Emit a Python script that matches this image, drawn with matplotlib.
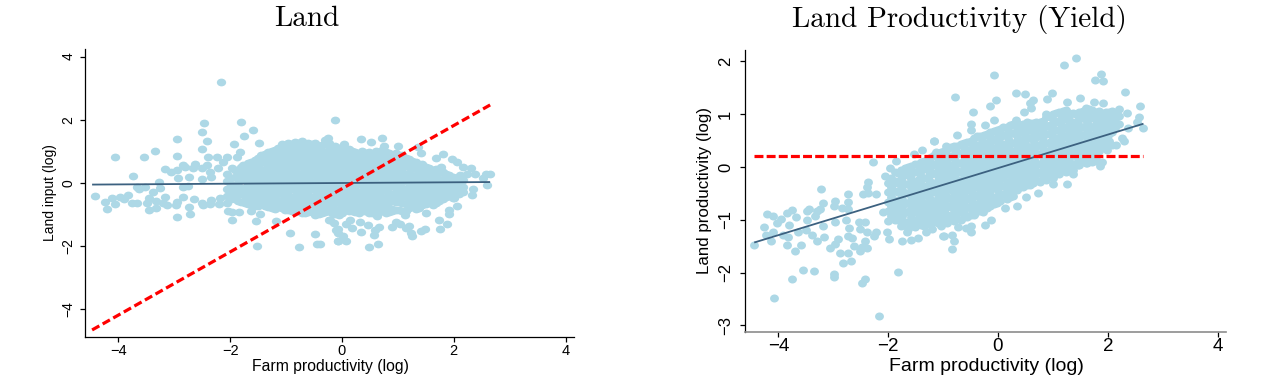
import matplotlib
matplotlib.use("Agg")
import matplotlib.pyplot as plt
from matplotlib.markers import MarkerStyle
from matplotlib.transforms import Affine2D

title_left = "Land"
title_right = "Land Productivity (Yield)"
xlabel = "Farm productivity (log)"
ylabel_left = "Land input (log)"
ylabel_right = "Land productivity (log)"
xticks = [-4, -2, 0, 2, 4]
yticks_left = [-4, -2, 0, 2, 4]
yticks_right = [-3, -2, -1, 0, 1, 2]

# Left panel: separate points around the cloud
left_x = [-2.17,-2.46,-1.81,-2.50,-1.59,-2.96,-2.42,-1.75,-1.94,-1.49,-2.50,-3.35,-1.83,-4.06,-3.54,-2.96,-2.39,-2.24,-2.05,-1.87,
 -2.12,-3.16,-3.74,-3.05,-2.95,-2.85,-2.81,-2.63,-2.67,-2.42,-2.51,-2.36,-2.21,-1.96,-1.77,-2.93,-2.74,-2.51,-2.35,-3.28,-2.84,-2.75,-3.25,-3.67,-3.52,-3.63,
 -4.42,-4.24,-4.11,-4.20,-4.06,-3.97,-3.90,-3.82,-3.76,-3.66,-3.46,-3.46,-3.49,-3.38,-3.33,-3.33,-3.17,-3.20,-3.13,-2.96,-2.97,-2.85,-2.73,-2.72,-2.95,-2.64,-2.51,-2.49,-2.35,-2.36,-2.20,-2.18,-2.05,-2.04,-1.96,-1.84,-1.96,-1.62,-1.53,-1.46,-1.52,-1.18,-0.93,-0.77,-0.45,-0.48,-0.21,-0.07,-0.10,
 -0.13,-0.25,-0.30,0.34,0.51,0.72,0.04,-0.23,0.75,1.00,1.36,1.41,1.81,1.68,1.97,2.06,2.16,2.31,1.77,
 2.58,2.65,2.38,2.23,2.52,2.11,2.59,2.35,2.33,2.17,2.05,2.00,1.91,1.91,1.74,1.88,1.76,1.48,1.42,1.23,1.26,1.19,1.14,1.04,0.97,0.89,0.67,0.59,0.57,0.47,0.32,0.34,0.64,0.49,0.18,0.14,0.08,-0.08,-0.07,0.01,-0.07,0.07,-0.23,-0.14,1.51,1.13,0.89,0.63,-0.39]
left_y = [3.19,1.91,1.93,1.60,1.67,1.39,1.32,1.48,1.23,1.27,1.08,1.02,0.99,0.81,0.82,0.84,0.82,0.82,0.81,0.81,
 0.66,0.45,0.23,0.36,0.41,0.58,0.52,0.60,0.46,0.57,0.46,0.36,0.46,0.49,0.57,0.15,0.18,0.14,0.18,0.02,-0.12,-0.09,-0.15,-0.12,-0.12,-0.20,
 -0.42,-0.61,-0.49,-0.81,-0.65,-0.43,-0.52,-0.39,-0.63,-0.62,-0.47,-0.86,-0.62,-0.29,-0.56,-0.78,-0.45,-0.64,-0.69,-0.60,-0.71,-0.45,-0.75,-0.98,-1.07,-0.51,-0.62,-0.70,-0.54,-0.67,-0.67,-0.49,-0.62,-0.88,-0.92,-0.92,-1.16,-0.90,-1.19,-0.98,-2.00,-1.21,-1.57,-2.02,-1.93,-1.61,-1.17,-1.82,-1.48,
 1.99,1.41,1.36,1.39,1.31,1.41,1.22,1.27,1.18,1.17,1.15,0.94,0.92,0.78,0.76,0.66,0.51,0.46,0.50,
 0.30,0.27,0.27,0.30,0.15,0.25,-0.06,-0.19,-0.39,-0.27,-0.72,-0.46,-0.85,-0.98,-1.18,-1.30,-1.47,-1.44,-1.51,-1.59,-1.68,-1.36,-1.41,-1.31,-1.22,-1.38,-1.39,-1.49,-1.65,-1.32,-1.24,-1.54,-1.92,-2.03,-1.41,-1.17,-1.31,-1.44,-1.57,-1.68,-1.82,-1.85,-1.17,-1.26,-0.94,-1.00,-0.90,-1.05,-1.93]

# Left panel: the solid part of the cloud, read column by column
left_cloud_x = [-2.05,-1.92,-1.80,-1.68,-1.56,-1.44,-1.32,-1.20,-1.08,-0.96,-0.84,-0.72,-0.60,-0.48,-0.36,-0.24,-0.12,0.00,0.12,0.24,0.36,0.48,0.60,0.72,0.84,0.96,1.08,1.20,1.32,1.44,1.56,1.68,1.80,1.92,2.04,2.16]
left_cloud_y = [
 [0.28,0.05,-0.18,-0.42],
 [0.42,0.18,-0.05,-0.28,-0.52],
 [0.50,0.28,0.08,-0.15,-0.36,-0.60],
 [0.62,0.40,0.18,-0.04,-0.26,-0.48,-0.66],
 [0.72,0.50,0.28,0.06,-0.16,-0.38,-0.58,-0.72],
 [0.90,0.66,0.42,0.20,-0.02,-0.24,-0.46,-0.68],
 [0.98,0.76,0.54,0.32,0.10,-0.12,-0.34,-0.56,-0.76],
 [1.05,0.85,0.65,0.42,0.20,-0.02,-0.24,-0.46,-0.66,-0.82],
 [1.22,0.98,0.76,0.54,0.32,0.10,-0.12,-0.34,-0.56,-0.78],
 [1.25,1.04,0.84,0.64,0.42,0.20,-0.02,-0.24,-0.46,-0.66,-0.86],
 [1.30,1.10,0.88,0.66,0.44,0.22,0.00,-0.22,-0.44,-0.64,-0.84],
 [1.33,1.14,0.94,0.74,0.52,0.30,0.08,-0.14,-0.36,-0.58,-0.78,-0.96],
 [1.26,1.06,0.84,0.62,0.40,0.18,-0.04,-0.26,-0.48,-0.70,-0.92],
 [1.28,1.10,0.90,0.70,0.48,0.26,0.04,-0.18,-0.40,-0.62,-0.84,-1.02],
 [1.20,1.00,0.78,0.56,0.34,0.12,-0.10,-0.32,-0.54,-0.76,-0.96],
 [1.18,1.02,0.82,0.62,0.42,0.20,-0.02,-0.24,-0.46,-0.68,-0.88],
 [1.16,0.94,0.72,0.50,0.28,0.06,-0.16,-0.38,-0.60,-0.82,-0.98],
 [1.14,0.98,0.78,0.58,0.36,0.14,-0.08,-0.30,-0.52,-0.74,-0.94],
 [1.08,0.88,0.66,0.44,0.22,0.00,-0.22,-0.44,-0.66,-0.88],
 [0.98,0.78,0.56,0.34,0.12,-0.10,-0.32,-0.54,-0.76,-0.92],
 [1.02,0.84,0.64,0.42,0.20,-0.02,-0.24,-0.46,-0.68,-0.88],
 [0.98,0.76,0.54,0.32,0.10,-0.12,-0.34,-0.56,-0.78,-0.94],
 [1.00,0.84,0.64,0.42,0.20,-0.02,-0.24,-0.46,-0.68,-0.88],
 [1.04,0.86,0.66,0.44,0.22,0.00,-0.22,-0.44,-0.66,-0.90],
 [0.96,0.76,0.54,0.32,0.10,-0.12,-0.34,-0.56,-0.78,-0.92],
 [0.94,0.72,0.50,0.28,0.06,-0.16,-0.38,-0.60,-0.86],
 [0.88,0.68,0.46,0.24,0.02,-0.20,-0.42,-0.64,-0.88],
 [0.76,0.54,0.32,0.10,-0.12,-0.34,-0.56,-0.78],
 [0.68,0.48,0.26,0.04,-0.18,-0.40,-0.62,-0.82],
 [0.60,0.38,0.16,-0.06,-0.28,-0.50,-0.70],
 [0.48,0.28,0.06,-0.16,-0.38,-0.60],
 [0.44,0.24,0.02,-0.20,-0.42,-0.64],
 [0.36,0.14,-0.08,-0.30,-0.52],
 [0.24,0.04,-0.18,-0.40],
 [0.16,-0.06,-0.28],
 [0.08,-0.12],
]
left_fill_x = [-1.98,-1.86,-1.74,-1.62,-1.50,-1.38,-1.26,-1.14,-1.02,-0.90,-0.78,-0.66,-0.54,-0.42,-0.30,-0.18,-0.06,0.06,0.18,0.30,0.42,0.54,0.66,0.78,0.90,1.02,1.14,1.26,1.38,1.50,1.62,1.74,1.86,1.98,2.10]
left_fill_y = [
 [0.16,-0.06,-0.30,-0.52],
 [0.38,0.14,-0.10,-0.34,-0.58],
 [0.55,0.32,0.08,-0.16,-0.40,-0.62],
 [0.66,0.44,0.20,-0.04,-0.28,-0.52,-0.70],
 [0.80,0.58,0.34,0.10,-0.14,-0.38,-0.62,-0.74],
 [0.92,0.68,0.44,0.20,-0.04,-0.28,-0.52,-0.72],
 [1.00,0.80,0.56,0.32,0.08,-0.16,-0.40,-0.64,-0.80],
 [1.10,0.88,0.64,0.40,0.16,-0.08,-0.32,-0.56,-0.76],
 [1.18,0.94,0.70,0.46,0.22,-0.02,-0.26,-0.50,-0.74,-0.86],
 [1.22,1.00,0.76,0.52,0.28,0.04,-0.20,-0.44,-0.68,-0.88],
 [1.26,1.02,0.78,0.54,0.30,0.06,-0.18,-0.42,-0.66,-0.90],
 [1.20,0.96,0.72,0.48,0.24,0.00,-0.24,-0.48,-0.72,-0.94],
 [1.24,1.00,0.76,0.52,0.28,0.04,-0.20,-0.44,-0.68,-0.92],
 [1.16,0.92,0.68,0.44,0.20,-0.04,-0.28,-0.52,-0.76,-0.98],
 [1.22,0.98,0.74,0.50,0.26,0.02,-0.22,-0.46,-0.70,-0.92],
 [1.12,0.88,0.64,0.40,0.16,-0.08,-0.32,-0.56,-0.80,-0.96],
 [1.08,0.84,0.60,0.36,0.12,-0.12,-0.36,-0.60,-0.84,-1.00],
 [1.04,0.80,0.56,0.32,0.08,-0.16,-0.40,-0.64,-0.86],
 [1.02,0.78,0.54,0.30,0.06,-0.18,-0.42,-0.66,-0.90],
 [0.92,0.68,0.44,0.20,-0.04,-0.28,-0.52,-0.76,-0.94],
 [0.96,0.72,0.48,0.24,0.00,-0.24,-0.48,-0.72,-0.90],
 [0.90,0.66,0.42,0.18,-0.06,-0.30,-0.54,-0.78,-0.96],
 [0.94,0.70,0.46,0.22,-0.02,-0.26,-0.50,-0.74,-0.92],
 [0.98,0.74,0.50,0.26,0.02,-0.22,-0.46,-0.70,-0.94],
 [0.86,0.62,0.38,0.14,-0.10,-0.34,-0.58,-0.82],
 [0.84,0.60,0.36,0.12,-0.12,-0.36,-0.60,-0.84],
 [0.78,0.54,0.30,0.06,-0.18,-0.42,-0.66,-0.90],
 [0.70,0.46,0.22,-0.02,-0.26,-0.50,-0.74],
 [0.58,0.34,0.10,-0.14,-0.38,-0.62,-0.80],
 [0.52,0.28,0.04,-0.20,-0.44,-0.66],
 [0.42,0.18,-0.06,-0.30,-0.54,-0.70],
 [0.34,0.10,-0.14,-0.38,-0.58],
 [0.28,0.04,-0.20,-0.44],
 [0.20,-0.04,-0.28,-0.48],
 [0.10,-0.14,-0.34],
]

# Right panel: separate points around the cloud
right_x = [-4.44,-4.26,-4.21,-4.09,-4.23,-4.09,-4.13,-4.02,-3.96,-3.85,-3.75,-3.68,-3.80,-3.91,-3.83,-3.84,-3.58,-3.70,-3.65,-3.50,-3.48,-3.44,-3.47,-3.30,-3.25,-3.19,-3.22,-3.34,-3.39,-3.29,-3.17,-3.18,-2.97,-2.98,-2.96,-2.91,-2.96,-3.06,-2.87,-2.74,-2.83,-2.67,-2.74,-2.65,-2.71,-2.76,-2.73,-2.74,-2.85,-2.74,-2.63,-2.51,-2.48,-2.39,-2.42,-2.53,-2.51,-2.38,-2.42,-2.25,-2.22,-2.36,-2.39,-2.45,-2.36,-2.22,-2.28,-1.85,-2.10,
 -3.55,-3.36,-3.76,-4.08,-2.98,-2.99,-2.43,-2.48,-2.17,-1.83,-1.99,-1.75,-1.59,-1.46,-1.65,-2.02,-0.99,-1.31,-2.06,-1.97,-1.53,-1.38,-1.17,-0.95,-1.13,
 1.42,1.21,-0.07,1.88,1.76,1.91,2.32,0.33,0.49,0.98,-0.78,-0.04,-0.15,0.89,0.64,0.58,1.49,1.74,1.91,1.25,2.59,-0.46,2.35,2.56,-0.08,-0.49,-0.49,-0.24,-0.74,0.32,0.47,0.60,0.87,-1.17,2.65,2.53,2.37,2.25,2.30,2.15,2.07,1.98,1.86,1.89,1.36,1.25,1.01,0.72,0.51,0.34,0.13,-0.13,-0.24,-0.49,-0.49,-0.58,-0.80,-0.83,-0.84,-1.00,-1.21,-0.72,-0.27,-0.41,-0.02]
right_y = [-1.47,-1.14,-0.89,-0.92,-1.28,-1.23,-1.41,-1.06,-0.98,-0.87,-0.82,-0.95,-1.09,-1.29,-1.33,-1.48,-1.48,-1.60,-1.24,-1.19,-1.00,-0.80,-0.84,-0.83,-0.80,-0.68,-0.41,-0.93,-1.29,-1.40,-1.33,-1.11,-0.64,-0.74,-1.05,-1.36,-1.46,-1.54,-1.62,-1.62,-1.82,-1.78,-1.30,-1.35,-1.15,-1.00,-0.52,-0.66,-0.78,-0.80,-1.50,-1.60,-1.51,-1.53,-1.41,-1.05,-1.18,-1.23,-1.05,-1.31,-1.24,-0.29,-0.37,-0.51,-0.50,-0.51,0.09,0.11,-0.85,
 -1.95,-1.97,-2.12,-2.49,-2.03,-2.09,-2.13,-2.19,-2.83,-1.98,-1.37,-1.40,-1.38,-1.34,-1.24,-1.23,-1.30,-1.24,-0.17,-0.01,0.25,0.32,0.49,0.40,0.29,
 2.06,1.94,1.75,1.77,1.64,1.63,1.43,1.41,1.38,1.41,1.32,1.26,1.15,1.28,1.27,1.22,1.31,1.24,1.22,1.23,1.15,1.04,1.03,0.95,0.89,0.81,0.71,0.79,0.61,0.89,1.05,1.12,1.01,0.49,0.74,0.86,0.73,0.54,0.50,0.42,0.41,0.32,0.02,0.10,-0.14,-0.32,-0.32,-0.50,-0.57,-0.73,-0.78,-1.01,-1.10,-1.24,-1.12,-1.16,-1.41,-1.55,-1.29,-1.30,-1.18,-1.13,-0.85,-0.87,-0.69]

# Right panel: the solid part of the cloud, read column by column
right_cloud_x = [-2.00,-1.88,-1.76,-1.64,-1.52,-1.40,-1.28,-1.16,-1.04,-0.92,-0.80,-0.68,-0.56,-0.44,-0.32,-0.20,-0.08,0.04,0.16,0.28,0.40,0.52,0.64,0.76,0.88,1.00,1.12,1.24,1.36,1.48,1.60,1.72,1.84,1.96,2.08,2.20]
right_cloud_y = [
 [-0.30,-0.48,-0.66,-0.84,-1.02],
 [-0.10,-0.27,-0.45,-0.63,-0.81,-1.00],
 [-0.05,-0.22,-0.40,-0.58,-0.76,-0.94,-1.12],
 [0.00,-0.15,-0.32,-0.50,-0.68,-0.86,-1.04,-1.18],
 [0.06,-0.10,-0.28,-0.46,-0.64,-0.82,-1.00,-1.14],
 [0.10,-0.05,-0.22,-0.40,-0.58,-0.76,-0.94,-1.10],
 [0.16,0.00,-0.18,-0.36,-0.54,-0.72,-0.90,-1.08],
 [0.22,0.06,-0.12,-0.30,-0.48,-0.66,-0.84,-1.02],
 [0.28,0.10,-0.08,-0.26,-0.44,-0.62,-0.80,-0.98,-1.12],
 [0.34,0.16,-0.02,-0.20,-0.38,-0.56,-0.74,-0.92,-1.06],
 [0.40,0.22,0.04,-0.14,-0.32,-0.50,-0.68,-0.86,-1.02],
 [0.44,0.26,0.08,-0.10,-0.28,-0.46,-0.64,-0.82,-1.00],
 [0.48,0.32,0.14,-0.04,-0.22,-0.40,-0.58,-0.76,-0.94],
 [0.54,0.36,0.18,0.00,-0.18,-0.36,-0.54,-0.72,-0.90],
 [0.58,0.42,0.24,0.06,-0.12,-0.30,-0.48,-0.66,-0.84],
 [0.62,0.46,0.28,0.10,-0.08,-0.26,-0.44,-0.62,-0.78],
 [0.68,0.52,0.34,0.16,-0.02,-0.20,-0.38,-0.56,-0.70],
 [0.72,0.56,0.38,0.20,0.02,-0.16,-0.34,-0.52,-0.64],
 [0.76,0.60,0.42,0.24,0.06,-0.12,-0.30,-0.46,-0.60],
 [0.82,0.64,0.46,0.28,0.10,-0.08,-0.26,-0.42,-0.54],
 [0.80,0.66,0.50,0.32,0.14,-0.04,-0.22,-0.38],
 [0.86,0.70,0.54,0.36,0.18,0.00,-0.18,-0.34],
 [0.84,0.72,0.56,0.40,0.22,0.04,-0.14,-0.30],
 [0.86,0.74,0.58,0.42,0.24,0.06,-0.12,-0.28],
 [0.94,0.78,0.62,0.46,0.28,0.10,-0.08,-0.24],
 [1.00,0.84,0.68,0.50,0.32,0.14,-0.04,-0.20],
 [1.04,0.88,0.70,0.52,0.34,0.16,-0.02,-0.14],
 [1.08,0.92,0.74,0.56,0.38,0.20,0.02,-0.10],
 [1.02,0.86,0.78,0.60,0.42,0.24,0.06,-0.06],
 [1.04,0.90,0.74,0.56,0.38,0.20,0.04],
 [1.12,0.96,0.78,0.60,0.42,0.24,0.08],
 [1.08,0.92,0.76,0.58,0.40,0.24,0.10],
 [1.06,0.92,0.76,0.60,0.44,0.30],
 [1.04,0.90,0.74,0.58,0.44],
 [1.06,0.92,0.78,0.66],
 [1.10,0.96,0.82],
]
right_fill_x = [-1.94,-1.82,-1.70,-1.58,-1.46,-1.34,-1.22,-1.10,-0.98,-0.86,-0.74,-0.62,-0.50,-0.38,-0.26,-0.14,-0.02,0.10,0.22,0.34,0.46,0.58,0.70,0.82,0.94,1.06,1.18,1.30,1.42,1.54,1.66,1.78,1.90,2.02,2.14]
right_fill_y = [
 [-0.20,-0.38,-0.56,-0.74,-0.92],
 [-0.12,-0.30,-0.48,-0.66,-0.84,-1.00],
 [-0.02,-0.16,-0.32,-0.50,-0.68,-0.86,-1.04],
 [0.02,-0.14,-0.30,-0.46,-0.62,-0.78,-0.94,-1.10],
 [0.06,-0.08,-0.24,-0.40,-0.56,-0.72,-0.88,-1.04],
 [0.12,-0.04,-0.20,-0.36,-0.52,-0.68,-0.84,-1.00,-1.12],
 [0.18,0.02,-0.14,-0.30,-0.46,-0.62,-0.78,-0.94,-1.08],
 [0.26,0.08,-0.10,-0.26,-0.42,-0.58,-0.74,-0.90,-1.06],
 [0.30,0.14,-0.02,-0.18,-0.34,-0.50,-0.66,-0.82,-0.98],
 [0.38,0.20,0.04,-0.12,-0.28,-0.44,-0.60,-0.76,-0.92],
 [0.40,0.24,0.08,-0.08,-0.24,-0.40,-0.56,-0.72,-0.88,-0.98],
 [0.46,0.30,0.14,-0.02,-0.18,-0.34,-0.50,-0.66,-0.82,-0.94],
 [0.50,0.34,0.18,0.02,-0.14,-0.30,-0.46,-0.62,-0.78,-0.90],
 [0.58,0.42,0.26,0.10,-0.06,-0.22,-0.38,-0.54,-0.70,-0.82],
 [0.60,0.44,0.28,0.12,-0.04,-0.20,-0.36,-0.52,-0.68,-0.78],
 [0.66,0.50,0.34,0.18,0.02,-0.14,-0.30,-0.46,-0.62,-0.74],
 [0.70,0.54,0.38,0.22,0.06,-0.10,-0.26,-0.42,-0.58,-0.66],
 [0.76,0.60,0.44,0.28,0.12,-0.04,-0.20,-0.36,-0.52],
 [0.80,0.64,0.48,0.32,0.16,0.00,-0.16,-0.32,-0.48,-0.56],
 [0.82,0.66,0.50,0.34,0.18,0.02,-0.14,-0.30,-0.44],
 [0.82,0.68,0.52,0.36,0.20,0.04,-0.12,-0.28,-0.38],
 [0.84,0.70,0.54,0.38,0.22,0.06,-0.10,-0.26,-0.34],
 [0.86,0.72,0.56,0.40,0.24,0.08,-0.08,-0.24],
 [0.88,0.74,0.58,0.42,0.26,0.10,-0.06,-0.20],
 [0.96,0.80,0.64,0.48,0.32,0.16,0.00,-0.16],
 [1.02,0.86,0.70,0.54,0.38,0.22,0.06,-0.10],
 [1.06,0.90,0.74,0.58,0.42,0.26,0.10,-0.06],
 [1.02,0.88,0.72,0.56,0.40,0.24,0.08,-0.04],
 [1.00,0.86,0.70,0.54,0.38,0.22,0.06],
 [1.06,0.92,0.76,0.60,0.44,0.28,0.12],
 [1.10,0.94,0.78,0.62,0.46,0.30,0.14],
 [1.04,0.90,0.74,0.58,0.42,0.26,0.12],
 [1.02,0.88,0.72,0.56,0.40],
 [1.04,0.90,0.76,0.62,0.50],
 [1.02,0.88,0.74],
]
right_gap_x = [-1.90,-1.74,-1.58,-1.42,-1.26,-1.10,-0.94,-0.78,-0.62,-0.46,-0.30,-0.14,0.02,0.18,0.34,0.50,0.66,0.82,0.98,1.14,1.30,1.46,1.62,1.78,1.94,2.10]
right_gap_y = [
 [-0.30,-0.46,-0.62,-0.78,-0.94],
 [-0.12,-0.28,-0.44,-0.60,-0.76,-0.92,-1.06],
 [-0.06,-0.22,-0.38,-0.54,-0.70,-0.86,-1.02],
 [0.02,-0.14,-0.30,-0.46,-0.62,-0.78,-0.94,-1.06],
 [0.08,-0.08,-0.24,-0.40,-0.56,-0.72,-0.88,-1.02],
 [0.17,0.00,-0.17,-0.33,-0.49,-0.65,-0.81,-0.97],
 [0.25,0.07,-0.09,-0.25,-0.41,-0.57,-0.73,-0.89,-1.00],
 [0.32,0.14,-0.02,-0.18,-0.34,-0.50,-0.66,-0.82,-0.94],
 [0.38,0.22,0.06,-0.10,-0.26,-0.42,-0.58,-0.74,-0.88],
 [0.46,0.28,0.12,-0.04,-0.20,-0.36,-0.52,-0.68,-0.82],
 [0.52,0.36,0.20,0.04,-0.12,-0.28,-0.44,-0.60,-0.74],
 [0.58,0.42,0.26,0.10,-0.06,-0.22,-0.38,-0.54,-0.68],
 [0.64,0.47,0.30,0.14,-0.02,-0.18,-0.34,-0.50,-0.60],
 [0.70,0.54,0.38,0.20,0.04,-0.12,-0.28,-0.44,-0.52],
 [0.74,0.58,0.42,0.26,0.10,-0.06,-0.22,-0.36],
 [0.78,0.62,0.46,0.28,0.12,-0.04,-0.20,-0.30],
 [0.80,0.64,0.48,0.32,0.16,0.00,-0.16,-0.26],
 [0.82,0.66,0.50,0.34,0.18,0.02,-0.12,-0.22],
 [0.92,0.76,0.58,0.42,0.24,0.08,-0.08,-0.18],
 [0.98,0.82,0.64,0.46,0.30,0.12,-0.04],
 [0.96,0.80,0.64,0.48,0.32,0.16,0.00],
 [0.98,0.82,0.66,0.50,0.34,0.16,0.04],
 [1.02,0.86,0.70,0.52,0.36,0.20,0.08],
 [0.98,0.82,0.66,0.50,0.34,0.18],
 [0.96,0.82,0.66,0.52,0.38],
 [0.98,0.84,0.72],
]

left_fit_x = [-4.47, 2.65]
left_fit_y = [-0.05, 0.03]
left_ref_x = [-4.47, 2.65]
left_ref_y = [-4.65, 2.47]
right_fit_x = [-4.44, 2.65]
right_fit_y = [-1.43, 0.82]
right_ref_x = [-4.44, 2.65]
right_ref_y = [0.20, 0.20]

W, H = 1268, 380
fig = plt.figure(figsize=(W/100, H/100), dpi=100, facecolor='white')


def make_axes(l, r, t, b, xlim, ylim):
    ax = fig.add_axes([l/W, 1-b/H, (r-l)/W, (b-t)/H])
    ax.set_xlim(*xlim)
    ax.set_ylim(*ylim)
    for s in ('top', 'right'):
        ax.spines[s].set_visible(False)
    for s in ('left', 'bottom'):
        ax.spines[s].set_linewidth(0.9)
    return ax


def draw(ax, xs, ys, layers, fx, fy, rx, ry, marker, dashes):
    px = list(xs)
    py = list(ys)
    for cx, cy in layers:
        for x, col in zip(cx, cy):
            for y in col:
                px.append(x)
                py.append(y)
    ax.scatter(px, py, s=37, marker=marker, color='#ADD8E6', linewidths=0, zorder=2, clip_on=False)
    ax.plot(fx, fy, color='#3C6180', lw=1.3, zorder=3, solid_capstyle='butt')
    ax.plot(rx, ry, color='#FF0000', lw=2.3, zorder=4, dashes=dashes, dash_capstyle='butt')


def fmt(v):
    return str(v).replace('-', '\u2212')


sans = 'Liberation Sans'
label_tf = fig.transFigure

a = make_axes(85, 574, 49, 337, (-4.597, 4.15), (-4.873, 4.24))
draw(a, left_x, left_y, [(left_cloud_x, left_cloud_y), (left_fill_x, left_fill_y)],
     left_fit_x, left_fit_y, left_ref_x, left_ref_y,
     MarkerStyle('o', transform=Affine2D().scale(1.1, 0.92)), (2.6, 1.2))
a.set_xticks(xticks, [fmt(v) for v in xticks], family=sans, fontsize=10.5)
a.set_yticks(yticks_left, [fmt(v) for v in yticks_left], family=sans, fontsize=10, rotation=90, va='center')
a.tick_params(axis='x', length=3.6, width=0.9, pad=1.5)
a.tick_params(axis='y', length=3.6, width=0.9, pad=3.5)
a.set_xlabel(xlabel, family=sans, fontsize=11.3, va='center')
a.xaxis.set_label_coords(330/W, 1-366.5/H, transform=label_tf)
a.set_ylabel(ylabel_left, family=sans, fontsize=10, va='center')
a.yaxis.set_label_coords(50/W, 1-193/H, transform=label_tf)
fig.text(307/W, 1-19/H, title_left, family='cmr10', fontsize=21, ha='center', va='center')

b = make_axes(745, 1226, 50, 332, (-4.608, 4.153), (-3.125, 2.216))
draw(b, right_x, right_y, [(right_cloud_x, right_cloud_y), (right_fill_x, right_fill_y), (right_gap_x, right_gap_y)],
     right_fit_x, right_fit_y, right_ref_x, right_ref_y,
     MarkerStyle('o', transform=Affine2D().scale(1.05, 0.95)), (2.8, 1.0))
b.spines['bottom'].set_color('#8C8C8C')
b.spines['bottom'].set_linewidth(1.2)
b.set_xticks(xticks, [fmt(v) for v in xticks], family=sans, fontsize=13.5)
b.set_yticks(yticks_right, [fmt(v) for v in yticks_right], family=sans, fontsize=12, rotation=90, va='center')
b.tick_params(axis='x', length=3.6, width=0.9, pad=1)
b.tick_params(axis='y', length=3.6, width=0.9, pad=5)
b.set_xlabel(xlabel, family=sans, fontsize=14, va='center')
b.xaxis.set_label_coords(986/W, 1-366.5/H, transform=label_tf)
b.set_ylabel(ylabel_right, family=sans, fontsize=12.2, va='center')
b.yaxis.set_label_coords(704/W, 1-191/H, transform=label_tf)
fig.text(959/W, 1-20/H, title_right, family='cmr10', fontsize=21, ha='center', va='center')

fig.savefig('out.png', dpi=100, facecolor='white')
